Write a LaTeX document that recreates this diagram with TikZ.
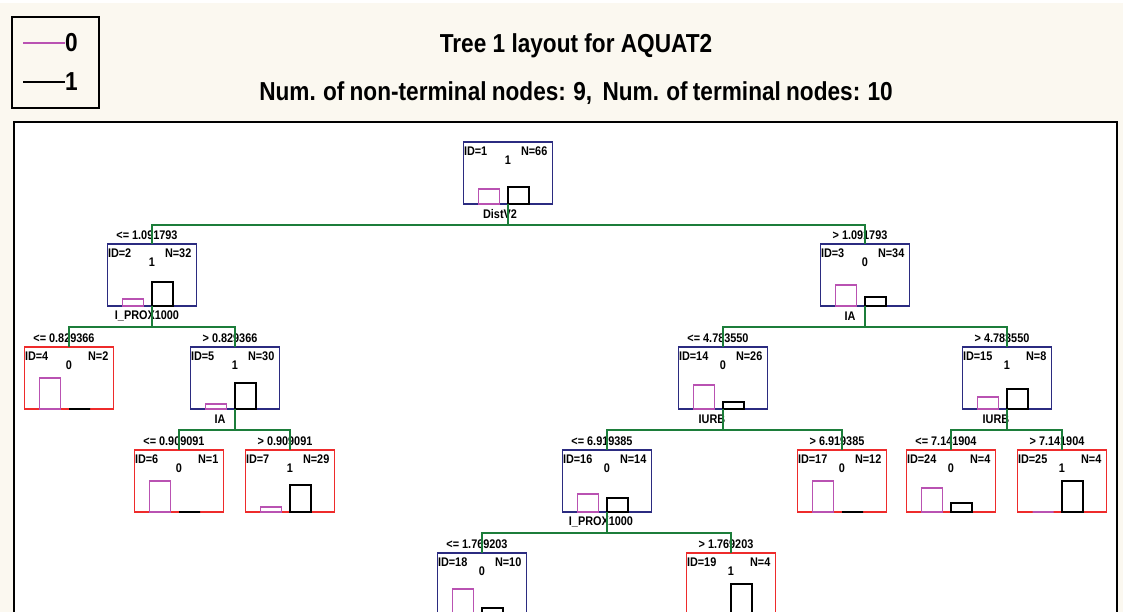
\documentclass[tikz,border=0pt]{standalone}
\usepackage{fontspec}
\setmainfont{Liberation Sans}[FakeStretch=0.87]
\definecolor{bgcream}{HTML}{FBF8F0}
\definecolor{navy}{HTML}{2B2B80}
\definecolor{tred}{HTML}{EE2B2B}
\definecolor{egreen}{HTML}{1C7D3A}
\definecolor{pmag}{HTML}{B952B2}
\tikzset{
  box/.style={draw, minimum width=89pt, minimum height=62pt, inner sep=0pt, outer sep=0pt, line width=1.9pt},
  nt/.style={box, draw=navy},
  term/.style={box, draw=tred},
  txt/.style={inner sep=0pt, font=\fontsize{12.5}{13}\selectfont\bfseries},
  ttl/.style={inner sep=0pt, font=\fontsize{26}{30}\selectfont\bfseries},
  pbar/.style={draw=pmag, line width=1.6pt},
  kbar/.style={draw=black, line width=1.6pt},
  edge/.style={draw=egreen, line width=1.7pt},
}
\newcommand\tnode[9]{%
  \node[#4,anchor=north] (#1) at (#2,#3) {};
  \node[txt,anchor=west] (#1-id) at ([xshift=0.3pt,yshift=-9pt]#1.north west) {ID=#5};
  \node[txt,anchor=east] (#1-n) at ([xshift=-5pt,yshift=-9pt]#1.north east) {N=#7};
  \node[txt] (#1-c) at ([yshift=-18pt]#1.north) {#6};
  \draw[pbar] ([xshift=-29.5pt]#1.south) rectangle ++(21,-#8);
  \draw[kbar] (#1.south) rectangle ++(21,-#9);
}
\newcommand\splitlab[2]{\node[txt] (#1-s) at ([xshift=-5pt,yshift=9pt]#1.north) {#2};}
\newcommand\varlab[3]{\node[txt] (#1-v) at ([xshift=#2pt,yshift=-10pt]#1.south) {#3};}
\newcommand\tedge[2]{\draw[edge] (#1.south) -- ++(0,21) -| (#2.north);}
\begin{document}
\begin{tikzpicture}[x=1pt,y=-1pt]
\useasboundingbox (0,0) rectangle (1123,612);
\clip (0,0) rectangle (1123,612);
\fill[white] (0,0) rectangle (1123,612);
\fill[bgcream] (0,3) rectangle (1123,612);
% legend
\draw[line width=1.6pt] (12,17) rectangle (99,108);
\node[ttl,anchor=west] (leg0) at (65,43) {0};
\node[ttl,anchor=west] (leg1) at (65,82) {1};
\draw[pmag, line width=1.5pt] (23,43) -- (leg0.west);
\draw[black, line width=1.5pt] (23,82) -- (leg1.west);
% titles
\node[ttl] (title) at (576,46) {Tree 1 layout for AQUAT2};
\node[ttl] (subtitle) at (576,93) {\spaceskip=0.2em Num. of non-terminal nodes: 9,\hspace{0.4em}Num. of terminal nodes: 10};
% frame
\draw[line width=2.5pt, fill=white] (14,122) rectangle (1117,700);
% tree nodes
\tnode{n1}{508}{142}{nt}{1}{1}{66}{15}{17}
\tnode{n2}{152}{244}{nt}{2}{1}{32}{7}{24}
\tnode{n3}{865}{244}{nt}{3}{0}{34}{21}{9}
\tnode{n4}{69}{347}{term}{4}{0}{2}{31}{0}
\tnode{n5}{235}{347}{nt}{5}{1}{30}{5}{26}
\tnode{n14}{723}{347}{nt}{14}{0}{26}{24}{7}
\tnode{n15}{1007}{347}{nt}{15}{1}{8}{12}{20}
\tnode{n6}{179}{450}{term}{6}{0}{1}{31}{0}
\tnode{n7}{290}{450}{term}{7}{1}{29}{5}{27}
\tnode{n16}{607}{450}{nt}{16}{0}{14}{18}{14}
\tnode{n17}{842}{450}{term}{17}{0}{12}{31}{0}
\tnode{n24}{951}{450}{term}{24}{0}{4}{24}{9}
\tnode{n25}{1062}{450}{term}{25}{1}{4}{0}{31}
\tnode{n18}{482}{553}{nt}{18}{0}{10}{26}{7}
\tnode{n19}{731}{553}{term}{19}{1}{4}{0}{31}
% split labels
\splitlab{n2}{<= 1.091793}
\splitlab{n3}{> 1.091793}
\splitlab{n4}{<= 0.829366}
\splitlab{n5}{> 0.829366}
\splitlab{n14}{<= 4.783550}
\splitlab{n15}{> 4.783550}
\splitlab{n6}{<= 0.909091}
\splitlab{n7}{> 0.909091}
\splitlab{n16}{<= 6.919385}
\splitlab{n17}{> 6.919385}
\splitlab{n24}{<= 7.141904}
\splitlab{n25}{> 7.141904}
\splitlab{n18}{<= 1.769203}
\splitlab{n19}{> 1.769203}
% variable labels
\varlab{n1}{-8}{DistV2}
\varlab{n2}{-5}{I\_PROX1000}
\varlab{n3}{-15}{IA}
\varlab{n5}{-15}{IA}
\varlab{n14}{-11}{IURB}
\varlab{n15}{-11}{IURB}
\varlab{n16}{-6}{I\_PROX1000}
% edges
\tedge{n1}{n2}
\tedge{n1}{n3}
\tedge{n2}{n4}
\tedge{n2}{n5}
\tedge{n5}{n6}
\tedge{n5}{n7}
\tedge{n3}{n14}
\tedge{n3}{n15}
\tedge{n14}{n16}
\tedge{n14}{n17}
\tedge{n15}{n24}
\tedge{n15}{n25}
\tedge{n16}{n18}
\tedge{n16}{n19}
\end{tikzpicture}
\end{document}
